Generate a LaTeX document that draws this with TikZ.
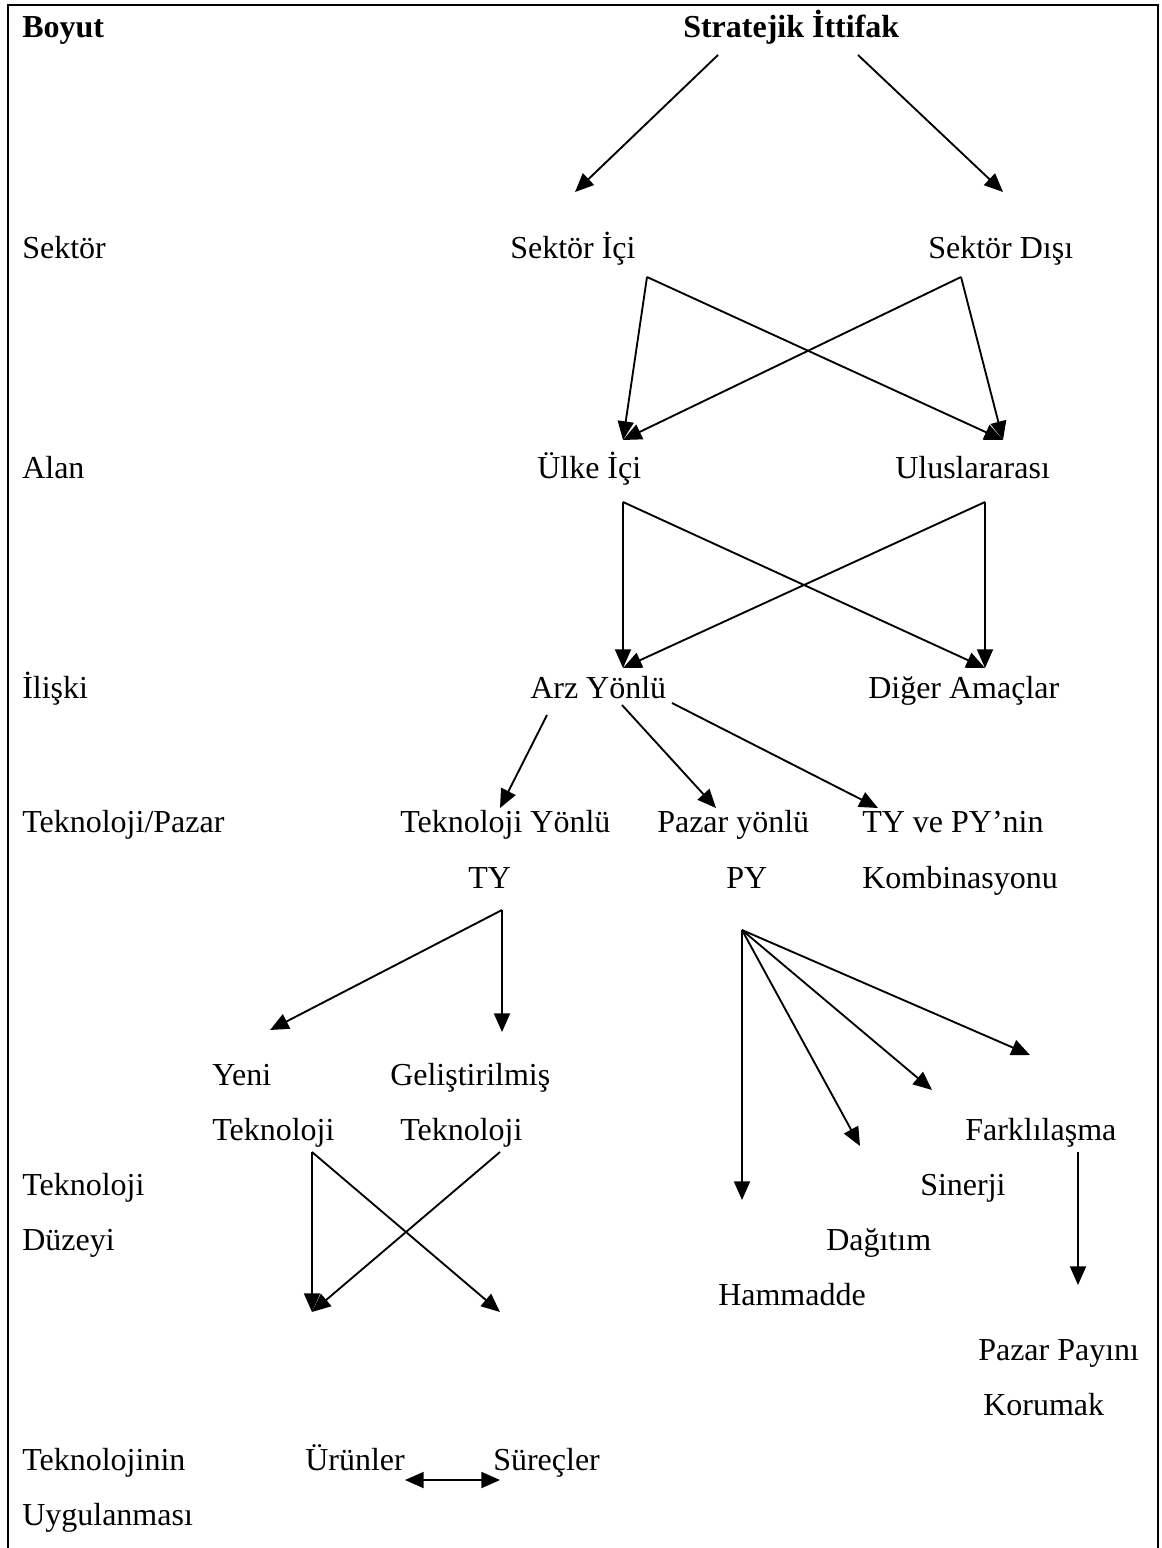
\documentclass[tikz,border=0pt]{standalone}
\usepackage{fontspec}
\setmainfont{Liberation Serif}
\usetikzlibrary{arrows.meta}
\begin{document}
\begin{tikzpicture}[x=0.75pt,y=-0.75pt,
  lbl/.style={anchor=base west,inner sep=0pt,font=\fontsize{24}{28}\selectfont},
  hd/.style={anchor=base west,inner sep=0pt,font=\fontsize{24}{28}\selectfont\bfseries},
  con/.style={line width=1.4pt,-{Triangle[length=14pt,width=12pt]}},
  dcon/.style={line width=1.4pt,{Triangle[length=14pt,width=12pt]}-{Triangle[length=14pt,width=12pt]}},
  frame/.style={line width=2pt}]
\useasboundingbox (0,0) rectangle (1162,1548);
\draw[frame] (8,1548) -- (8,5) -- (1158,5) -- (1158,1548);

% left column
\node[hd]  (boyut)  at (22,38)   {Boyut};
\node[lbl] (dsek)   at (22,258)  {Sektör};
\node[lbl] (dalan)  at (22,478)  {Alan};
\node[lbl] (diliski) at (22,698) {İlişki};
\node[lbl] (dtp)    at (22,832)  {Teknoloji/Pazar};
\node[lbl] (dtd1)   at (22,1195) {Teknoloji};
\node[lbl] (dtd2)   at (22,1250) {Düzeyi};
\node[lbl] (dtu1)   at (22,1470) {Teknolojinin};
\node[lbl] (dtu2)   at (22,1525) {Uygulanması};

% nodes
\node[hd]  (si)   at (683,38)   {Stratejik İttifak};
\node[lbl] (sici) at (510,258)  {Sektör İçi};
\node[lbl] (sdis) at (928,258)  {Sektör Dışı};
\node[lbl] (uici) at (537,478)  {Ülke İçi};
\node[lbl] (ulus) at (895,478)  {Uluslararası};
\node[lbl] (arz)  at (530,698)  {Arz Yönlü};
\node[lbl] (diger) at (868,698) {Diğer Amaçlar};
\node[lbl] (tyl1) at (400,832)  {Teknoloji Yönlü};
\node[lbl] (tyl2) at (468,888)  {TY};
\node[lbl] (pyl1) at (657,832)  {Pazar yönlü};
\node[lbl] (pyl2) at (726,888)  {PY};
\node[lbl] (komb1) at (862,832) {TY ve PY’nin};
\node[lbl] (komb2) at (862,888) {Kombinasyonu};
\node[lbl] (yeni1) at (212,1085) {Yeni};
\node[lbl] (yeni2) at (212,1140) {Teknoloji};
\node[lbl] (gel1) at (390,1085) {Geliştirilmiş};
\node[lbl] (gel2) at (400,1140) {Teknoloji};
\node[lbl] (fark) at (965,1140) {Farklılaşma};
\node[lbl] (sin)  at (920,1195) {Sinerji};
\node[lbl] (dag)  at (826,1250) {Dağıtım};
\node[lbl] (ham)  at (718,1305) {Hammadde};
\node[lbl] (ppay1) at (978,1360) {Pazar Payını};
\node[lbl] (ppay2) at (983,1415) {Korumak};
\node[lbl] (urun) at (305,1470) {Ürünler};
\node[lbl] (surec) at (493,1470) {Süreçler};

% connector end points
\coordinate (siL) at (718,55);   \coordinate (siR) at (858,55);
\coordinate (siciIn) at (575,192); \coordinate (sdisIn) at (1003,192);
\coordinate (siciOut) at (647,277); \coordinate (sdisOut) at (961,277);
\coordinate (uiciIn) at (623,440); \coordinate (ulusIn) at (1003,440);
\coordinate (uiciOut) at (623,502); \coordinate (ulusOut) at (985,502);
\coordinate (arzIn) at (623,668); \coordinate (digerIn) at (985,668);
\coordinate (arzA) at (547,715); \coordinate (arzB) at (622,705); \coordinate (arzC) at (672,703);
\coordinate (tyIn) at (500,808); \coordinate (pyIn) at (716,808); \coordinate (kombIn) at (878,808);
\coordinate (tyOut) at (502,910);
\coordinate (yeniIn) at (270,1030); \coordinate (gelIn) at (502,1032);
\coordinate (pyOut) at (742,930);
\coordinate (hamIn) at (742,1200); \coordinate (dagIn) at (860,1146);
\coordinate (sinIn) at (932,1090); \coordinate (farkIn) at (1030,1055);
\coordinate (farkOut) at (1078,1152); \coordinate (ppayIn) at (1078,1285);
\coordinate (yeniOut) at (312,1152); \coordinate (gelOut) at (500,1152);
\coordinate (urunIn) at (312,1312); \coordinate (surecIn) at (500,1312);
\coordinate (urunR) at (405,1480); \coordinate (surecL) at (500,1480);

\draw[con] (siL) -- (siciIn);
\draw[con] (siR) -- (sdisIn);
\draw[con] (siciOut) -- (uiciIn);
\draw[con] (siciOut) -- (ulusIn);
\draw[con] (sdisOut) -- (uiciIn);
\draw[con] (sdisOut) -- (ulusIn);
\draw[con] (uiciOut) -- (arzIn);
\draw[con] (uiciOut) -- (digerIn);
\draw[con] (ulusOut) -- (arzIn);
\draw[con] (ulusOut) -- (digerIn);
\draw[con] (arzA) -- (tyIn);
\draw[con] (arzB) -- (pyIn);
\draw[con] (arzC) -- (kombIn);
\draw[con] (tyOut) -- (yeniIn);
\draw[con] (tyOut) -- (gelIn);
\draw[con] (pyOut) -- (hamIn);
\draw[con] (pyOut) -- (dagIn);
\draw[con] (pyOut) -- (sinIn);
\draw[con] (pyOut) -- (farkIn);
\draw[con] (farkOut) -- (ppayIn);
\draw[con] (yeniOut) -- (urunIn);
\draw[con] (yeniOut) -- (surecIn);
\draw[con] (gelOut) -- (urunIn);
\draw[dcon] (urunR) -- (surecL);
\end{tikzpicture}
\end{document}
